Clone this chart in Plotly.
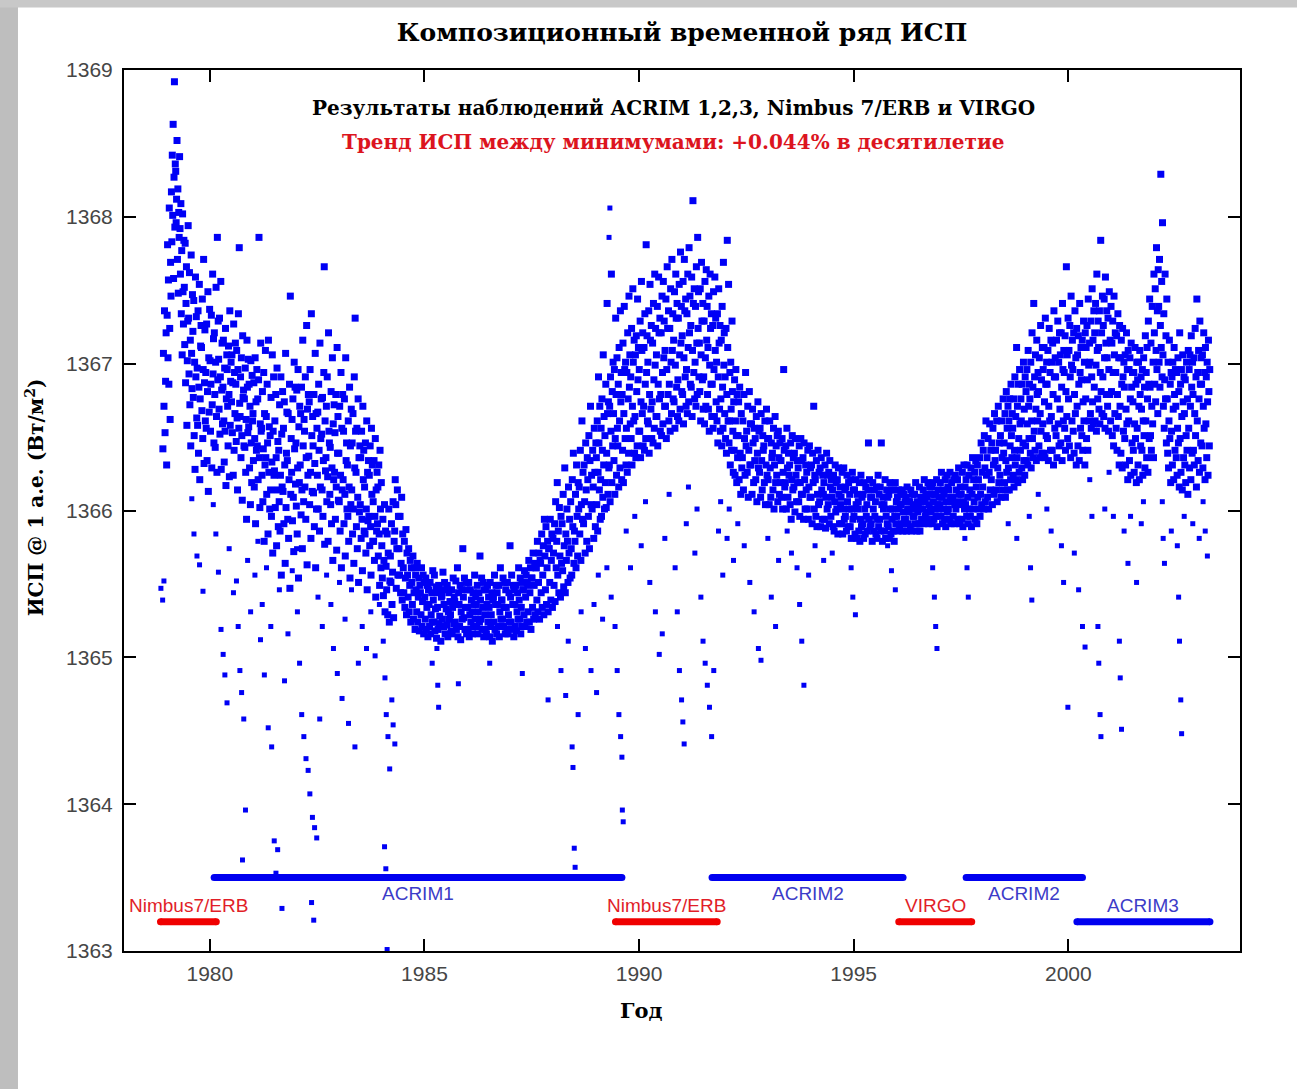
import plotly.graph_objects as go

# ---------------- data ----------------
# Composite TSI samples, grouped in 0.1-year bins starting at 1978.9
first_bin_year = 1978.9
bin_width_years = 0.1

tsi_bins = [
    # 1978.9
    [1366.42, 1367.07, 1366.71, 1367.36, 1366.53, 1366.88, 1367.21, 1366.31],
    # 1979
    [1367.33, 1367.81, 1367.04, 1367.57, 1366.86, 1368.06, 1367.24, 1366.62, 1367.69, 1367.46],
    [1368.17, 1367.83, 1368.42, 1368.01, 1368.63, 1367.58, 1368.27, 1368.92, 1367.93, 1368.36],
    [1368.31, 1367.96, 1368.12, 1368.52, 1367.71, 1368.19, 1367.48, 1368.03, 1367.86, 1368.41],
    [1367.92, 1367.61, 1368.09, 1367.34, 1367.77, 1367.06, 1368.02, 1367.49, 1367.27, 1367.84],
    [1367.52, 1367.13, 1367.82, 1366.87, 1367.41, 1367.66, 1366.58, 1367.02, 1367.29, 1367.94],
    [1367.31, 1366.93, 1367.62, 1366.72, 1367.16, 1366.44, 1367.74, 1367.07, 1366.83, 1367.47],
    [1367.22, 1366.77, 1367.43, 1366.51, 1367.01, 1366.28, 1367.59, 1366.91, 1367.32, 1366.63],
    [1366.97, 1366.58, 1367.36, 1366.39, 1366.84, 1367.54, 1366.21, 1366.76, 1367.12, 1367.26],
    [1367.11, 1366.68, 1367.44, 1366.49, 1366.96, 1367.71, 1366.32, 1366.87, 1367.23, 1366.61],
    [1366.94, 1366.56, 1367.27, 1366.34, 1366.81, 1367.49, 1366.13, 1367.04, 1366.67, 1367.37],
    # 1980
    [1367.02, 1366.54, 1366.86, 1367.33, 1366.29, 1366.72, 1367.61, 1366.93, 1367.17, 1366.46],
    [1367.21, 1366.79, 1366.43, 1367.01, 1367.52, 1366.64, 1366.26, 1367.86, 1366.89, 1367.29],
    [1367.03, 1366.69, 1367.31, 1366.52, 1366.91, 1367.56, 1366.28, 1366.82, 1367.14, 1366.59],
    [1366.84, 1367.16, 1366.61, 1366.33, 1366.97, 1366.54, 1367.24, 1366.17, 1366.76, 1367.06],
    [1366.96, 1366.71, 1366.44, 1367.12, 1366.79, 1366.23, 1367.36, 1366.58, 1366.88, 1367.01],
    [1366.74, 1367.06, 1366.53, 1366.87, 1366.24, 1367.27, 1366.41, 1366.94, 1366.66, 1367.14],
    [1366.86, 1366.47, 1367.09, 1366.63, 1366.14, 1366.96, 1367.34, 1366.56, 1367.79, 1366.73],
    [1366.64, 1366.91, 1366.36, 1367.04, 1366.51, 1366.07, 1367.19, 1366.77, 1366.82, 1366.44],
    [1366.76, 1366.43, 1366.97, 1366.26, 1366.62, 1365.94, 1367.16, 1366.84, 1366.53, 1367.03],
    [1366.57, 1366.86, 1366.29, 1366.71, 1366.04, 1367.02, 1366.46, 1366.19, 1366.92, 1366.61],
    # 1981
    [1366.66, 1366.34, 1366.87, 1366.16, 1366.49, 1367.04, 1365.91, 1366.74, 1366.41, 1366.96],
    [1366.44, 1366.76, 1366.21, 1366.89, 1367.86, 1366.36, 1366.02, 1366.59, 1367.14, 1366.54],
    [1366.56, 1366.24, 1366.81, 1366.06, 1366.42, 1366.94, 1365.79, 1366.66, 1366.31, 1367.09],
    [1366.36, 1366.64, 1366.11, 1366.86, 1366.46, 1365.84, 1367.16, 1366.26, 1366.57, 1366.01],
    [1366.51, 1366.14, 1366.77, 1365.96, 1366.33, 1367.06, 1365.71, 1366.54, 1366.91, 1366.24],
    [1366.27, 1366.61, 1366.02, 1366.79, 1366.36, 1365.76, 1366.97, 1366.14, 1366.47, 1365.89],
    [1366.41, 1366.06, 1366.72, 1365.86, 1366.24, 1366.91, 1365.56, 1366.52, 1366.16, 1366.81],
    [1366.13, 1366.56, 1365.91, 1366.74, 1366.31, 1365.64, 1367.07, 1366.02, 1366.39, 1366.67],
    [1366.34, 1365.94, 1366.66, 1365.81, 1366.21, 1366.86, 1365.47, 1367.46, 1366.11, 1366.49],
    [1366.26, 1366.62, 1365.93, 1366.76, 1366.09, 1365.72, 1367.01, 1366.42, 1366.84, 1366.18],
    # 1982
    [1366.46, 1366.03, 1366.82, 1365.84, 1366.29, 1366.96, 1365.54, 1366.57, 1366.19, 1366.71],
    [1366.31, 1366.66, 1365.97, 1366.84, 1366.14, 1365.74, 1367.16, 1366.44, 1366.06, 1366.62],
    [1366.54, 1366.16, 1366.91, 1365.94, 1366.36, 1367.26, 1365.63, 1366.69, 1366.24, 1366.79],
    [1366.37, 1366.74, 1366.04, 1366.96, 1366.26, 1365.81, 1367.34, 1366.51, 1366.13, 1366.64],
    [1366.44, 1366.12, 1366.79, 1365.89, 1366.32, 1367.07, 1365.61, 1366.66, 1366.01, 1366.56],
    [1366.24, 1366.67, 1366.01, 1366.86, 1366.41, 1365.86, 1367.14, 1366.16, 1366.49, 1366.76],
    [1366.52, 1366.14, 1366.77, 1365.96, 1366.34, 1366.94, 1367.66, 1365.77, 1366.61, 1366.27],
    [1366.36, 1366.71, 1366.06, 1366.91, 1366.23, 1365.79, 1367.21, 1366.54, 1366.46, 1366.11],
    [1366.43, 1366.04, 1366.81, 1365.91, 1366.29, 1367.04, 1365.66, 1366.59, 1366.21, 1366.72],
    [1366.26, 1366.53, 1365.94, 1366.79, 1366.16, 1365.73, 1367.11, 1366.39, 1366.64, 1366.07],
    # 1983
    [1366.39, 1366.06, 1366.71, 1365.86, 1366.24, 1366.94, 1365.61, 1366.56, 1366.14, 1366.79],
    [1366.21, 1366.54, 1365.91, 1366.76, 1366.11, 1365.69, 1367.04, 1366.34, 1366.46, 1366.01],
    [1366.31, 1365.96, 1366.61, 1365.79, 1366.16, 1366.84, 1365.54, 1366.44, 1366.04, 1366.69],
    [1366.14, 1366.46, 1365.84, 1366.66, 1366.01, 1365.64, 1366.91, 1366.29, 1367.31, 1366.54],
    [1366.26, 1365.89, 1366.56, 1365.74, 1366.09, 1366.76, 1365.51, 1366.36, 1365.99, 1366.44],
    [1366.04, 1366.36, 1365.81, 1366.54, 1365.94, 1365.59, 1366.71, 1366.21, 1366.41, 1365.86],
    [1366.16, 1365.84, 1366.46, 1365.71, 1366.01, 1366.61, 1365.46, 1366.26, 1365.93, 1366.34],
    [1365.96, 1366.24, 1365.76, 1366.44, 1365.89, 1365.56, 1366.56, 1366.11, 1366.31, 1365.79],
    [1366.06, 1365.79, 1366.34, 1365.66, 1365.96, 1366.49, 1365.41, 1366.14, 1365.86, 1366.26],
    [1365.91, 1366.16, 1365.69, 1366.31, 1365.84, 1365.49, 1366.41, 1366.01, 1365.61, 1366.19],
    # 1984
    [1365.76, 1365.54, 1365.94, 1365.42, 1365.66, 1366.04, 1365.31, 1365.86],
    [1365.62, 1365.46, 1365.84, 1365.29, 1365.71, 1366.01, 1365.24, 1365.52],
    [1365.69, 1365.51, 1365.91, 1365.36, 1365.58, 1366.06, 1365.27, 1365.79],
    [1365.86, 1366.21, 1366.04, 1365.47, 1365.74, 1366.14, 1365.56, 1365.96],
    [1365.74, 1365.56, 1365.96, 1365.44, 1365.64, 1366.09, 1365.39, 1365.84],
    [1365.61, 1365.44, 1365.79, 1365.34, 1365.54, 1365.87, 1365.29, 1365.71],
    [1365.56, 1365.41, 1365.74, 1365.31, 1365.49, 1365.66, 1365.24, 1365.61],
    [1365.51, 1365.36, 1365.69, 1365.26, 1365.44, 1365.61, 1365.19, 1365.56],
    [1365.46, 1365.31, 1365.64, 1365.24, 1365.41, 1365.54, 1365.18, 1365.49],
    [1365.44, 1365.29, 1365.61, 1365.21, 1365.38, 1365.56, 1365.16, 1365.51],
    # 1985
    [1365.41, 1365.26, 1365.54, 1365.19, 1365.34, 1365.49, 1365.14, 1365.46],
    [1365.36, 1365.21, 1365.51, 1365.16, 1365.29, 1365.44, 1365.24, 1365.59],
    [1365.39, 1365.24, 1365.56, 1365.18, 1365.33, 1365.48, 1365.13, 1365.44],
    [1365.34, 1365.19, 1365.49, 1365.23, 1365.28, 1365.46, 1365.11, 1365.41],
    [1365.42, 1365.26, 1365.58, 1365.21, 1365.36, 1365.51, 1365.16, 1365.46],
    [1365.33, 1365.22, 1365.49, 1365.14, 1365.31, 1365.44, 1365.26, 1365.38],
    [1365.29, 1365.18, 1365.46, 1365.16, 1365.34, 1365.54, 1365.23, 1365.41],
    [1365.38, 1365.24, 1365.52, 1365.19, 1365.36, 1365.61, 1365.14, 1365.44],
    [1365.36, 1365.21, 1365.49, 1365.12, 1365.31, 1365.46, 1365.26, 1365.74],
    [1365.41, 1365.27, 1365.54, 1365.19, 1365.34, 1365.51, 1365.16, 1365.46],
    # 1986
    [1365.34, 1365.19, 1365.51, 1365.14, 1365.29, 1365.46, 1365.24, 1365.39],
    [1365.31, 1365.16, 1365.44, 1365.21, 1365.36, 1365.56, 1365.26, 1365.41],
    [1365.36, 1365.21, 1365.49, 1365.16, 1365.31, 1365.44, 1365.24, 1365.69],
    [1365.39, 1365.26, 1365.54, 1365.19, 1365.34, 1365.51, 1365.14, 1365.46],
    [1365.29, 1365.19, 1365.46, 1365.16, 1365.36, 1365.49, 1365.24, 1365.41],
    [1365.34, 1365.14, 1365.51, 1365.21, 1365.29, 1365.44, 1365.11, 1365.39],
    [1365.41, 1365.24, 1365.56, 1365.19, 1365.36, 1365.49, 1365.16, 1365.44],
    [1365.36, 1365.21, 1365.49, 1365.14, 1365.31, 1365.61, 1365.26, 1365.39],
    [1365.39, 1365.26, 1365.54, 1365.21, 1365.34, 1365.51, 1365.16, 1365.46],
    [1365.34, 1365.19, 1365.51, 1365.16, 1365.29, 1365.44, 1365.24, 1365.76],
    # 1987
    [1365.41, 1365.24, 1365.56, 1365.19, 1365.36, 1365.49, 1365.14, 1365.46],
    [1365.36, 1365.21, 1365.49, 1365.18, 1365.31, 1365.44, 1365.26, 1365.61],
    [1365.39, 1365.26, 1365.54, 1365.16, 1365.34, 1365.51, 1365.21, 1365.46],
    [1365.46, 1365.29, 1365.59, 1365.21, 1365.41, 1365.56, 1365.24, 1365.51],
    [1365.49, 1365.31, 1365.66, 1365.24, 1365.44, 1365.61, 1365.19, 1365.54],
    [1365.54, 1365.34, 1365.71, 1365.26, 1365.49, 1365.64, 1365.29, 1365.61],
    [1365.61, 1365.39, 1365.79, 1365.31, 1365.51, 1365.71, 1365.26, 1365.66],
    [1365.64, 1365.44, 1365.84, 1365.34, 1365.56, 1365.76, 1365.29, 1365.94],
    [1365.69, 1365.46, 1365.89, 1365.36, 1365.61, 1365.79, 1365.31, 1365.74],
    [1365.74, 1365.51, 1365.94, 1365.39, 1365.66, 1365.84, 1365.34, 1365.81],
    # 1988
    [1365.71, 1365.49, 1365.91, 1365.38, 1366.06, 1365.61, 1365.79, 1366.19],
    [1365.56, 1365.86, 1365.44, 1366.02, 1365.69, 1365.41, 1365.96, 1365.64],
    [1365.91, 1365.59, 1366.11, 1365.48, 1365.76, 1366.29, 1365.44, 1365.84],
    [1365.66, 1366.01, 1365.79, 1365.51, 1366.16, 1365.71, 1365.94, 1365.54],
    [1366.06, 1365.74, 1365.56, 1366.21, 1365.89, 1366.39, 1365.64, 1365.86],
    [1365.79, 1366.11, 1365.61, 1366.31, 1365.96, 1365.69, 1366.19, 1366.01],
    [1366.16, 1365.84, 1366.41, 1365.66, 1366.04, 1366.61, 1365.94, 1366.26],
    [1365.91, 1366.31, 1366.06, 1365.71, 1366.46, 1366.14, 1365.79, 1366.36],
    [1366.21, 1365.96, 1366.51, 1365.74, 1366.34, 1366.71, 1366.04, 1366.24],
    [1366.01, 1366.41, 1366.16, 1365.81, 1366.56, 1366.26, 1365.89, 1366.46],
    # 1989
    [1366.36, 1366.04, 1366.61, 1365.86, 1366.26, 1366.91, 1366.46, 1366.14, 1366.71, 1365.94],
    [1366.21, 1366.56, 1365.96, 1366.76, 1366.41, 1366.09, 1367.06, 1366.31, 1366.64, 1366.01],
    [1366.51, 1366.19, 1366.86, 1366.02, 1366.39, 1367.41, 1366.66, 1366.11, 1366.74, 1366.29],
    [1366.31, 1366.71, 1366.06, 1366.91, 1366.54, 1367.61, 1366.19, 1366.81, 1366.44, 1367.01],
    [1366.66, 1366.34, 1366.96, 1366.11, 1366.49, 1367.31, 1366.79, 1366.24, 1367.04, 1366.56],
    [1366.44, 1366.86, 1366.16, 1367.11, 1366.61, 1366.29, 1367.36, 1366.74, 1366.94, 1366.21],
    [1366.79, 1366.41, 1367.14, 1366.19, 1366.66, 1367.39, 1366.96, 1366.49, 1367.01, 1366.31],
    [1366.56, 1366.94, 1366.26, 1367.21, 1366.76, 1366.39, 1367.46, 1366.84, 1367.06, 1366.59],
    [1366.91, 1366.49, 1367.24, 1366.31, 1366.71, 1367.51, 1367.01, 1366.61, 1367.16, 1366.39],
    [1366.64, 1367.06, 1366.36, 1367.19, 1366.81, 1366.44, 1367.44, 1366.89, 1367.11, 1366.54],
    # 1990
    [1366.96, 1366.54, 1367.29, 1366.36, 1366.74, 1367.56, 1367.09, 1366.66, 1367.21, 1366.44],
    [1366.71, 1367.11, 1366.41, 1367.34, 1366.86, 1366.49, 1367.81, 1366.94, 1367.19, 1366.61],
    [1367.01, 1366.59, 1367.36, 1366.39, 1366.79, 1367.54, 1367.16, 1366.69, 1367.26, 1366.49],
    [1366.74, 1367.14, 1366.46, 1367.41, 1366.89, 1366.56, 1367.61, 1366.99, 1367.24, 1366.64],
    [1367.06, 1366.64, 1367.39, 1366.44, 1366.86, 1367.59, 1367.21, 1366.76, 1367.31, 1366.54],
    [1366.79, 1367.21, 1366.51, 1367.46, 1366.94, 1366.59, 1367.56, 1367.04, 1367.29, 1366.71],
    [1367.09, 1366.71, 1367.44, 1366.49, 1366.96, 1367.66, 1367.24, 1366.79, 1367.36, 1366.61],
    [1366.86, 1367.24, 1366.54, 1367.51, 1367.01, 1366.66, 1367.71, 1367.09, 1367.34, 1366.76],
    [1367.16, 1366.74, 1367.49, 1366.56, 1366.99, 1367.61, 1367.31, 1366.84, 1367.41, 1366.64],
    [1366.89, 1367.31, 1366.61, 1367.54, 1367.06, 1366.69, 1367.76, 1367.14, 1367.39, 1366.81],
    # 1991
    [1367.19, 1366.79, 1367.56, 1366.59, 1367.04, 1367.71, 1367.36, 1366.91, 1367.44, 1366.71],
    [1366.96, 1367.34, 1366.66, 1367.61, 1367.11, 1366.74, 1367.79, 1367.21, 1367.46, 1366.86],
    [1367.26, 1366.84, 1367.59, 1366.64, 1367.09, 1368.11, 1367.41, 1366.94, 1367.51, 1366.76],
    [1367.01, 1367.39, 1366.71, 1367.66, 1367.14, 1366.79, 1367.86, 1367.24, 1367.49, 1366.91],
    [1367.14, 1366.81, 1367.51, 1366.61, 1367.06, 1367.69, 1367.29, 1366.89, 1367.41, 1366.69],
    [1366.91, 1367.29, 1366.59, 1367.56, 1367.04, 1366.71, 1367.64, 1367.16, 1367.39, 1366.79],
    [1367.11, 1366.69, 1367.46, 1366.54, 1366.99, 1367.61, 1367.24, 1366.86, 1367.34, 1366.64],
    [1366.86, 1367.26, 1366.56, 1367.49, 1366.96, 1366.64, 1367.59, 1367.09, 1367.31, 1366.74],
    [1367.01, 1366.61, 1367.34, 1366.46, 1366.91, 1367.51, 1367.14, 1366.69, 1367.26, 1366.54],
    [1366.76, 1367.16, 1366.44, 1367.39, 1366.84, 1366.56, 1367.69, 1366.99, 1367.21, 1366.66],
    # 1992
    [1366.91, 1366.49, 1367.24, 1366.39, 1366.79, 1367.84, 1367.11, 1366.61, 1367.54, 1366.46],
    [1366.61, 1366.94, 1366.31, 1367.01, 1366.69, 1366.41, 1367.29, 1366.81, 1366.54, 1366.26],
    [1366.74, 1366.41, 1366.89, 1366.24, 1366.61, 1366.96, 1366.51, 1366.19, 1366.79, 1366.36],
    [1366.51, 1366.74, 1366.21, 1366.84, 1366.39, 1366.11, 1366.66, 1366.29],
    [1366.36, 1366.61, 1366.14, 1366.79, 1366.49, 1366.24, 1366.94, 1366.44],
    [1366.54, 1366.26, 1366.71, 1366.09, 1366.41, 1366.81, 1366.31, 1366.59],
    [1366.31, 1366.59, 1366.11, 1366.69, 1366.46, 1366.19, 1366.56, 1366.34],
    [1366.49, 1366.21, 1366.64, 1366.06, 1366.39, 1366.74, 1366.29, 1366.54],
    [1366.26, 1366.56, 1366.09, 1366.66, 1366.34, 1366.14, 1366.51, 1366.41],
    [1366.44, 1366.19, 1366.61, 1366.04, 1366.31, 1366.69, 1366.24, 1366.49],
    # 1993
    [1366.21, 1366.49, 1366.04, 1366.61, 1366.29, 1366.09, 1366.46, 1366.36],
    [1366.39, 1366.14, 1366.56, 1366.01, 1366.31, 1366.64, 1366.19, 1366.44],
    [1366.24, 1366.51, 1366.06, 1366.54, 1366.36, 1366.11, 1366.46, 1366.19],
    [1366.34, 1366.09, 1366.49, 1366.01, 1366.26, 1366.96, 1366.41, 1366.16],
    [1366.19, 1366.44, 1366.01, 1366.56, 1366.29, 1366.09, 1366.39, 1366.24],
    [1366.31, 1366.04, 1366.46, 1365.94, 1366.21, 1366.51, 1366.14, 1366.36],
    [1366.16, 1366.39, 1365.99, 1366.49, 1366.24, 1366.06, 1366.34, 1366.19],
    [1366.29, 1366.06, 1366.44, 1365.96, 1366.19, 1366.49, 1366.11, 1366.34],
    [1366.11, 1366.36, 1365.94, 1366.46, 1366.21, 1366.01, 1366.31, 1366.14],
    [1366.26, 1366.01, 1366.41, 1365.94, 1366.16, 1366.44, 1366.09, 1366.29],
    # 1994
    [1366.09, 1366.31, 1365.91, 1366.39, 1366.19, 1366.71, 1366.01, 1366.24],
    [1366.21, 1365.96, 1366.34, 1365.89, 1366.11, 1366.41, 1366.04, 1366.26],
    [1366.06, 1366.29, 1365.89, 1366.36, 1366.14, 1365.94, 1366.24, 1366.11],
    [1366.19, 1365.94, 1366.31, 1365.88, 1366.09, 1366.39, 1366.01, 1366.24],
    [1366.04, 1366.26, 1365.91, 1366.34, 1366.16, 1365.96, 1366.21, 1366.09],
    [1366.14, 1365.89, 1366.24, 1365.86, 1366.06, 1366.31, 1365.99, 1366.19],
    [1366.01, 1366.21, 1365.84, 1366.29, 1366.11, 1365.91, 1366.16, 1366.04],
    [1366.09, 1365.91, 1366.26, 1365.84, 1366.01, 1366.29, 1365.94, 1366.14],
    [1365.96, 1366.16, 1365.86, 1366.24, 1366.06, 1365.89, 1366.19, 1366.01],
    [1366.11, 1365.89, 1366.21, 1365.81, 1366.01, 1366.26, 1365.94, 1366.14],
    # 1995
    [1365.96, 1366.14, 1365.84, 1366.21, 1366.04, 1365.81, 1366.11, 1366.01],
    [1366.06, 1365.86, 1366.19, 1365.79, 1365.94, 1366.24, 1365.89, 1366.09],
    [1365.91, 1366.11, 1365.81, 1366.19, 1366.01, 1365.84, 1366.16, 1365.96],
    [1366.04, 1365.86, 1366.14, 1366.46, 1365.94, 1366.21, 1365.89, 1366.09],
    [1365.91, 1366.09, 1365.79, 1366.19, 1366.01, 1365.86, 1366.14, 1365.96],
    [1366.06, 1365.84, 1366.16, 1365.81, 1365.94, 1366.24, 1365.89, 1366.11],
    [1365.94, 1366.16, 1365.86, 1366.46, 1366.04, 1365.79, 1366.09, 1366.01],
    [1366.04, 1365.86, 1366.21, 1365.81, 1365.96, 1366.14, 1365.91, 1366.09],
    [1365.89, 1366.11, 1365.81, 1366.19, 1366.01, 1365.84, 1366.14, 1365.94],
    [1366.01, 1365.86, 1366.14, 1365.79, 1365.96, 1366.19, 1365.91, 1366.06],
    # 1996
    [1365.96, 1366.09, 1365.86, 1366.14, 1366.01, 1365.89, 1366.04, 1366.11],
    [1366.04, 1365.91, 1366.14, 1365.86, 1365.99, 1366.11, 1365.94, 1366.06],
    [1365.94, 1366.09, 1365.86, 1366.16, 1366.01, 1365.91, 1366.06, 1365.99],
    [1366.06, 1365.89, 1366.14, 1365.86, 1366.01, 1366.11, 1365.96, 1366.04],
    [1365.96, 1366.11, 1365.91, 1366.19, 1366.01, 1365.86, 1366.06, 1365.99],
    [1366.04, 1365.91, 1366.16, 1365.86, 1366.01, 1366.09, 1365.94, 1366.06],
    [1366.01, 1366.14, 1365.91, 1366.21, 1366.06, 1365.96, 1366.11, 1365.99],
    [1366.09, 1365.94, 1366.19, 1365.91, 1366.04, 1366.16, 1366.01, 1366.11],
    [1365.99, 1366.16, 1365.91, 1366.19, 1366.06, 1365.94, 1366.11, 1366.01],
    [1366.11, 1365.96, 1366.21, 1365.89, 1366.04, 1366.14, 1366.01, 1366.09],
    # 1997
    [1366.04, 1366.19, 1365.96, 1366.26, 1366.09, 1365.91, 1366.14, 1366.01],
    [1366.11, 1365.94, 1366.21, 1365.89, 1366.06, 1366.24, 1365.99, 1366.16],
    [1366.01, 1366.14, 1365.94, 1366.26, 1366.09, 1365.91, 1366.19, 1366.06],
    [1366.09, 1365.96, 1366.21, 1365.91, 1366.04, 1366.24, 1366.01, 1366.14],
    [1366.06, 1366.21, 1365.94, 1366.29, 1366.11, 1365.91, 1366.16, 1366.04],
    [1366.11, 1365.94, 1366.26, 1365.89, 1366.06, 1366.31, 1366.01, 1366.16],
    [1366.04, 1366.21, 1365.96, 1366.31, 1366.09, 1365.91, 1366.24, 1366.01],
    [1366.14, 1365.96, 1366.29, 1365.89, 1366.11, 1366.36, 1366.01, 1366.21],
    [1366.06, 1366.26, 1365.94, 1366.34, 1366.16, 1365.91, 1366.31, 1366.09],
    [1366.21, 1366.01, 1366.36, 1365.96, 1366.11, 1366.46, 1366.04, 1366.26],
    # 1998
    [1366.16, 1366.41, 1366.01, 1366.51, 1366.29, 1366.06, 1366.61, 1366.24],
    [1366.36, 1366.09, 1366.49, 1366.01, 1366.26, 1366.59, 1366.14, 1366.41],
    [1366.21, 1366.46, 1366.04, 1366.56, 1366.31, 1366.11, 1366.66, 1366.34],
    [1366.41, 1366.14, 1366.61, 1366.06, 1366.29, 1366.71, 1366.19, 1366.46],
    [1366.24, 1366.51, 1366.09, 1366.61, 1366.36, 1366.14, 1366.76, 1366.39],
    [1366.46, 1366.19, 1366.66, 1366.09, 1366.34, 1366.81, 1366.26, 1366.56, 1366.14, 1366.71],
    [1366.29, 1366.61, 1366.14, 1366.76, 1366.44, 1366.21, 1366.86, 1366.51, 1366.36, 1366.66],
    [1366.56, 1366.24, 1366.76, 1366.16, 1366.41, 1366.91, 1366.31, 1366.64, 1366.21, 1367.11],
    [1366.36, 1366.71, 1366.19, 1366.86, 1366.49, 1366.26, 1366.96, 1366.59, 1366.41, 1366.76],
    [1366.61, 1366.29, 1366.86, 1366.21, 1366.46, 1367.01, 1366.34, 1366.69, 1366.24, 1366.91],
    # 1999
    [1366.44, 1366.81, 1366.34, 1366.96, 1366.59, 1366.31, 1367.09, 1366.71, 1366.49, 1366.86],
    [1366.76, 1366.39, 1367.01, 1366.29, 1366.61, 1367.21, 1366.49, 1366.84, 1366.36, 1367.41],
    [1366.54, 1366.91, 1366.41, 1367.06, 1366.69, 1366.34, 1367.16, 1366.79, 1366.61, 1366.94],
    [1366.81, 1366.44, 1367.04, 1366.36, 1366.66, 1367.26, 1366.54, 1366.89, 1366.39, 1367.11],
    [1366.59, 1366.96, 1366.39, 1367.11, 1366.74, 1366.36, 1367.31, 1366.86, 1366.51, 1367.01],
    [1366.86, 1366.49, 1367.09, 1366.34, 1366.71, 1367.24, 1366.61, 1366.94, 1366.41, 1367.16],
    [1366.64, 1367.01, 1366.41, 1367.14, 1366.79, 1366.31, 1367.36, 1366.91, 1366.56, 1367.04],
    [1366.91, 1366.51, 1367.16, 1366.36, 1366.76, 1367.29, 1366.59, 1367.01, 1366.44, 1367.21],
    [1366.69, 1367.06, 1366.46, 1367.21, 1366.84, 1366.34, 1367.41, 1366.96, 1366.61, 1367.09],
    [1366.94, 1366.56, 1367.19, 1366.41, 1366.81, 1367.66, 1366.64, 1367.06, 1366.49, 1367.31],
    # 2000
    [1366.76, 1367.09, 1366.44, 1367.26, 1366.91, 1366.36, 1367.46, 1366.99, 1366.61, 1367.16],
    [1366.96, 1366.54, 1367.21, 1366.39, 1366.79, 1367.36, 1366.66, 1367.04, 1366.31, 1367.24],
    [1366.71, 1367.06, 1366.44, 1367.19, 1366.86, 1366.34, 1367.41, 1366.94, 1366.56, 1367.11],
    [1366.89, 1366.51, 1367.16, 1366.41, 1366.74, 1367.29, 1366.61, 1367.01, 1366.31, 1367.21],
    [1366.76, 1367.11, 1366.49, 1367.26, 1366.89, 1366.41, 1367.44, 1366.99, 1366.61, 1367.14],
    [1367.01, 1366.66, 1367.29, 1366.56, 1366.91, 1367.51, 1366.74, 1367.16, 1366.59, 1367.36],
    [1366.84, 1367.21, 1366.61, 1367.41, 1366.99, 1366.54, 1367.61, 1367.09, 1366.76, 1367.29],
    [1367.11, 1366.69, 1367.36, 1366.59, 1366.94, 1367.84, 1366.81, 1367.21, 1366.66, 1367.46],
    [1366.91, 1367.26, 1366.64, 1367.44, 1367.04, 1366.56, 1367.59, 1367.14, 1366.79, 1367.36],
    [1367.04, 1366.71, 1367.31, 1366.54, 1366.96, 1367.49, 1366.79, 1367.16, 1366.61, 1367.39],
    # 2001
    [1366.81, 1367.14, 1366.51, 1367.29, 1366.94, 1366.44, 1367.46, 1367.06, 1366.66, 1367.21],
    [1366.94, 1366.56, 1367.19, 1366.41, 1366.79, 1367.34, 1366.64, 1367.04, 1366.31, 1367.26],
    [1366.71, 1367.04, 1366.39, 1367.16, 1366.86, 1366.29, 1367.24, 1366.91, 1366.54, 1367.01],
    [1366.84, 1366.49, 1367.06, 1366.31, 1366.69, 1367.21, 1366.59, 1366.96, 1366.21, 1367.09],
    [1366.61, 1366.96, 1366.34, 1367.04, 1366.76, 1366.24, 1367.14, 1366.84, 1366.46, 1366.94],
    [1366.74, 1366.41, 1366.94, 1366.26, 1366.59, 1367.11, 1366.49, 1366.86, 1366.19, 1367.01],
    [1366.56, 1366.89, 1366.31, 1367.01, 1366.71, 1366.21, 1367.09, 1366.79, 1366.44, 1366.91],
    [1366.69, 1366.41, 1366.96, 1366.24, 1366.61, 1367.04, 1366.51, 1366.84, 1366.29, 1367.19],
    [1366.61, 1366.94, 1366.36, 1367.11, 1366.76, 1366.26, 1367.29, 1366.86, 1366.49, 1367.44],
    [1366.84, 1366.51, 1367.14, 1366.41, 1366.71, 1367.39, 1366.59, 1367.01, 1366.36, 1367.61],
    # 2002
    [1367.21, 1366.86, 1367.51, 1366.74, 1367.09, 1367.79, 1366.96, 1367.36, 1366.66, 1367.64],
    [1367.39, 1367.01, 1367.71, 1366.84, 1367.26, 1368.29, 1367.11, 1367.56, 1366.91, 1367.96],
    [1367.06, 1366.71, 1367.34, 1366.56, 1366.89, 1367.61, 1366.76, 1367.19, 1366.46, 1367.44],
    [1366.76, 1366.39, 1367.01, 1366.29, 1366.61, 1367.16, 1366.49, 1366.86, 1366.19, 1366.94],
    [1366.54, 1366.91, 1366.31, 1367.01, 1366.69, 1366.21, 1367.11, 1366.79, 1366.41, 1366.96],
    [1366.71, 1366.36, 1366.94, 1366.24, 1366.56, 1367.04, 1366.46, 1366.81, 1366.16, 1367.21],
    [1366.49, 1366.86, 1366.26, 1366.96, 1366.64, 1366.14, 1367.06, 1366.74, 1366.36, 1366.91],
    [1366.66, 1366.31, 1366.89, 1366.19, 1366.51, 1367.01, 1366.41, 1366.76, 1366.11, 1367.09],
    [1366.56, 1366.96, 1366.29, 1367.06, 1366.71, 1366.21, 1367.19, 1366.84, 1366.39, 1367.01],
    [1366.79, 1366.41, 1367.04, 1366.31, 1366.66, 1367.24, 1366.51, 1366.91, 1366.16, 1367.44],
    # 2003
    [1366.61, 1366.94, 1366.34, 1367.09, 1366.76, 1366.26, 1367.29, 1366.86, 1366.46, 1367.04],
    [1366.86, 1366.44, 1367.06, 1366.29, 1366.71, 1367.21, 1366.56, 1366.94, 1366.21, 1367.11],
    [1366.59, 1366.91, 1366.36, 1367.01, 1366.74, 1366.24, 1367.16, 1366.81, 1366.44, 1366.96],
]

# Isolated low (sunspot dip), high and scattered points: (year, TSI)
sparse_points = [
    (1978.86, 1365.47), (1978.90, 1365.39), (1978.93, 1365.52),
    (1979.58, 1366.08), (1979.63, 1365.84), (1979.70, 1365.69), (1979.76, 1365.63), (1979.84, 1365.45),
    (1980.08, 1366.04), (1980.14, 1365.84), (1980.20, 1365.58), (1980.26, 1365.19), (1980.31, 1365.02),
    (1980.35, 1364.88), (1980.40, 1364.69), (1980.45, 1365.74), (1980.55, 1365.44),
    (1980.62, 1365.52), (1980.66, 1365.21), (1980.70, 1364.91), (1980.74, 1364.76), (1980.79, 1364.58),
    (1980.83, 1363.96), (1980.76, 1363.62), (1980.88, 1365.66), (1980.95, 1365.31),
    (1981.05, 1365.56), (1981.12, 1365.79), (1981.18, 1365.12), (1981.22, 1365.36), (1981.27, 1364.88),
    (1981.32, 1365.61), (1981.36, 1364.52), (1981.42, 1365.21), (1981.44, 1364.39), (1981.50, 1363.75),
    (1981.54, 1363.53), (1981.58, 1363.69), (1981.62, 1365.46), (1981.68, 1363.29), (1981.74, 1364.84),
    (1981.82, 1365.16), (1981.92, 1365.59),
    (1982.02, 1365.74), (1982.04, 1365.31), (1982.09, 1364.96), (1982.14, 1364.61), (1982.19, 1364.46),
    (1982.24, 1364.31), (1982.29, 1364.23), (1982.33, 1364.07), (1982.37, 1363.33), (1982.39, 1363.91),
    (1982.42, 1363.21), (1982.44, 1363.84), (1982.49, 1363.77), (1982.52, 1365.41), (1982.56, 1364.58),
    (1982.62, 1365.21), (1982.72, 1365.56), (1982.82, 1365.36), (1982.88, 1365.06), (1982.97, 1364.89),
    (1983.02, 1365.51), (1983.08, 1364.72), (1983.15, 1365.26), (1983.23, 1364.55), (1983.30, 1365.46),
    (1983.38, 1364.39), (1983.46, 1364.96), (1983.55, 1365.21), (1983.65, 1365.06), (1983.75, 1365.31),
    (1983.85, 1365.01), (1983.95, 1365.36),
    (1984.04, 1365.11), (1984.07, 1363.71), (1984.08, 1364.86), (1984.10, 1363.56), (1984.11, 1364.61),
    (1984.13, 1363.01), (1984.15, 1364.46), (1984.19, 1364.24), (1984.24, 1364.71), (1984.27, 1364.54),
    (1984.31, 1364.41),
    (1985.18, 1364.96), (1985.29, 1365.06), (1985.31, 1364.81), (1985.33, 1364.66), (1985.79, 1364.82),
    (1986.52, 1364.96), (1987.28, 1364.89), (1987.88, 1364.71),
    (1988.10, 1365.21), (1988.18, 1364.91), (1988.29, 1364.74), (1988.35, 1365.11), (1988.44, 1364.39),
    (1988.46, 1364.25), (1988.49, 1363.70), (1988.51, 1363.57), (1988.58, 1364.61), (1988.65, 1365.31),
    (1988.75, 1365.06), (1988.88, 1364.91), (1988.95, 1365.36),
    (1989.01, 1364.76), (1989.05, 1365.56), (1989.15, 1365.26), (1989.25, 1365.61), (1989.30, 1367.86),
    (1989.32, 1368.06), (1989.35, 1365.41),
    (1989.44, 1365.21), (1989.49, 1364.91), (1989.53, 1364.61), (1989.57, 1364.46), (1989.60, 1364.32),
    (1989.61, 1363.96), (1989.63, 1363.88), (1989.70, 1365.86), (1989.80, 1365.61), (1989.90, 1365.96),
    (1990.05, 1365.76), (1990.15, 1366.06), (1990.25, 1365.51), (1990.38, 1365.31), (1990.47, 1365.02),
    (1990.54, 1365.16), (1990.60, 1365.81), (1990.70, 1366.11), (1990.84, 1365.61), (1990.89, 1365.31),
    (1990.94, 1364.91), (1990.99, 1364.71),
    (1991.02, 1364.56), (1991.05, 1364.41), (1991.10, 1365.91), (1991.15, 1366.16), (1991.30, 1365.71),
    (1991.35, 1366.01), (1991.44, 1365.41), (1991.49, 1365.11), (1991.54, 1364.96), (1991.59, 1364.81),
    (1991.64, 1364.66), (1991.69, 1364.46), (1991.74, 1364.91), (1991.85, 1365.86), (1991.90, 1366.06),
    (1991.95, 1365.56),
    (1992.05, 1365.81), (1992.10, 1366.01), (1992.20, 1365.66), (1992.30, 1365.91), (1992.45, 1365.76),
    (1992.58, 1365.51), (1992.68, 1365.31), (1992.78, 1365.06), (1992.84, 1364.98),
    (1993.00, 1365.81), (1993.08, 1365.41), (1993.18, 1365.21), (1993.25, 1365.66), (1993.45, 1365.86),
    (1993.55, 1365.71), (1993.68, 1365.61), (1993.74, 1365.36), (1993.79, 1365.11), (1993.84, 1364.81),
    (1993.95, 1365.56),
    (1994.10, 1365.76), (1994.30, 1365.66), (1994.50, 1365.71), (1994.94, 1365.61), (1994.98, 1365.41),
    (1995.04, 1365.29), (1995.79, 1365.76), (1995.88, 1365.59), (1995.97, 1365.46),
    (1996.84, 1365.61), (1996.88, 1365.41), (1996.91, 1365.21), (1996.94, 1365.06),
    (1997.59, 1365.81), (1997.64, 1365.61), (1997.67, 1365.41),
    (1998.60, 1365.91), (1998.80, 1365.81),
    (1999.09, 1365.96), (1999.12, 1365.61), (1999.15, 1365.39), (1999.30, 1366.11), (1999.50, 1366.01),
    (1999.60, 1365.86), (1999.84, 1365.76), (1999.89, 1365.51), (1999.99, 1364.66),
    (2000.14, 1365.71), (2000.24, 1365.46), (2000.33, 1365.21), (2000.39, 1365.07), (2000.50, 1366.21),
    (2000.55, 1365.96), (2000.69, 1365.21), (2000.71, 1364.96), (2000.74, 1364.61), (2000.76, 1364.46),
    (2000.85, 1366.01), (2000.95, 1366.26),
    (2001.05, 1365.96), (2001.19, 1365.11), (2001.21, 1364.86), (2001.24, 1364.51), (2001.30, 1365.86),
    (2001.39, 1365.64), (2001.45, 1365.96), (2001.59, 1365.51), (2001.70, 1365.91), (2001.75, 1366.06),
    (2002.19, 1366.06), (2002.21, 1365.81), (2002.24, 1365.64), (2002.40, 1365.86), (2002.54, 1365.76),
    (2002.57, 1365.41), (2002.59, 1365.11), (2002.62, 1364.71), (2002.64, 1364.48), (2002.70, 1365.96),
    (2002.90, 1365.91), (2003.05, 1365.81), (2003.14, 1366.06), (2003.19, 1365.86), (2003.24, 1365.69),
]

# Instrument coverage bars
inst_names = ["Nimbus7/ERB", "ACRIM1", "Nimbus7/ERB", "ACRIM2", "VIRGO", "ACRIM2", "ACRIM3"]
inst_start = [1978.85, 1980.10, 1989.45, 1991.70, 1996.05, 1997.62, 2000.20]
inst_end = [1980.15, 1989.60, 1991.82, 1996.15, 1997.75, 2000.33, 2003.30]
inst_level = [1363.2, 1363.5, 1363.2, 1363.5, 1363.2, 1363.5, 1363.2]
inst_kind = ["nimbus", "acrim", "nimbus", "acrim", "virgo", "acrim", "acrim"]

x_ticks = [1980, 1985, 1990, 1995, 2000]
y_ticks = [1363, 1364, 1365, 1366, 1367, 1368, 1369]

title_text = "Композиционный временной ряд ИСП"
subtitle_text = "Результаты наблюдений ACRIM 1,2,3, Nimbus 7/ERB и VIRGO"
trend_text = "Тренд ИСП между минимумами: +0.044% в десятилетие"
x_title = "Год"
y_title = "ИСП @ 1 а.е. (Вт/м<sup>2</sup>)"

# ---------------- build ----------------
expected_bins = 244
assert len(tsi_bins) == expected_bins, len(tsi_bins)

core_x, core_y = [], []
for i, row in enumerate(tsi_bins):
    start = first_bin_year + i * bin_width_years
    n = len(row)
    for j, v in enumerate(row):
        core_x.append(start + (j + 0.5) * bin_width_years / n)
        core_y.append(v)
sparse_x = [p[0] for p in sparse_points]
sparse_y = [p[1] for p in sparse_points]

POINT_BLUE = "rgb(0,0,245)"
BAR_COLORS = {"nimbus": "rgb(240,0,0)", "acrim": "rgb(0,0,240)", "virgo": "rgb(240,0,0)"}
LABEL_COLORS = {"nimbus": "rgb(225,30,40)", "acrim": "rgb(60,60,200)", "virgo": "rgb(225,30,40)"}
SERIF = "DejaVu Serif, Liberation Serif, serif"
SANS = "Liberation Sans, Arial, sans-serif"

fig = go.Figure()
fig.add_trace(go.Scatter(
    x=core_x, y=core_y, mode="markers",
    marker=dict(symbol="square", size=7, color=POINT_BLUE, line=dict(width=0)),
    hoverinfo="skip", showlegend=False,
))
fig.add_trace(go.Scatter(
    x=sparse_x, y=sparse_y, mode="markers",
    marker=dict(symbol="square", size=5, color=POINT_BLUE, line=dict(width=0)),
    hoverinfo="skip", showlegend=False,
))

annotations = []
for name, s, e, lvl, kind in zip(inst_names, inst_start, inst_end, inst_level, inst_kind):
    fig.add_trace(go.Scatter(
        x=[s, e], y=[lvl, lvl], mode="lines+markers",
        line=dict(color=BAR_COLORS[kind], width=7),
        marker=dict(symbol="circle", size=7, color=BAR_COLORS[kind]),
        hoverinfo="skip", showlegend=False,
    ))
    upper = lvl > 1363.35
    annotations.append(dict(
        x=(s + e) / 2, y=lvl, xref="x", yref="y", text=name, showarrow=False,
        font=dict(family=SANS, size=19, color=LABEL_COLORS[kind]),
        xanchor="center", yanchor="middle", yshift=-16 if upper else 16,
    ))

annotations += [
    dict(x=0.4928, y=0.957, xref="paper", yref="paper", text=subtitle_text, showarrow=False,
         font=dict(family=SERIF, size=20, color="black", weight="bold"), xanchor="center", yanchor="middle"),
    dict(x=0.4928, y=0.918, xref="paper", yref="paper", text=trend_text, showarrow=False,
         font=dict(family=SERIF, size=20, color="rgb(220,20,30)", weight="bold"), xanchor="center", yanchor="middle"),
    dict(x=0.4633, y=-0.067, xref="paper", yref="paper", text=x_title, showarrow=False,
         font=dict(family=SERIF, size=21, color="black", weight="bold"), xanchor="center", yanchor="middle"),
    dict(x=-0.0797, y=0.515, xref="paper", yref="paper", text=y_title, showarrow=False, textangle=-90,
         font=dict(family=SERIF, size=20, color="black", weight="bold"), xanchor="center", yanchor="middle"),
]

shapes = [
    dict(type="rect", xref="paper", yref="paper", x0=-0.12, x1=-0.095, y0=-0.2, y1=1.1,
         fillcolor="rgb(190,190,190)", line=dict(width=0), layer="below"),
    dict(type="rect", xref="paper", yref="paper", x0=-0.12, x1=1.06, y0=1.071, y1=1.1,
         fillcolor="rgb(200,200,200)", line=dict(width=0), layer="below"),
]

axis_common = dict(
    showline=True, linecolor="black", linewidth=2, mirror="ticks",
    ticks="inside", ticklen=12, tickwidth=2, tickcolor="black",
    showgrid=False, zeroline=False,
    tickfont=dict(family=SANS, size=21, color="rgb(70,70,70)"),
)

fig.update_layout(
    width=1297, height=1089,
    margin=dict(l=124, r=57, t=70, b=138),
    paper_bgcolor="white", plot_bgcolor="white",
    title=dict(text=title_text, x=0.5, xref="paper", y=1 - 32 / 1089, yref="container",
               xanchor="center", yanchor="middle",
               font=dict(family=SERIF, size=25, color="black", weight="bold")),
    xaxis=dict(range=[1978, 2004], tickvals=x_ticks, ticklabelstandoff=3, **axis_common),
    yaxis=dict(range=[1363, 1369], tickvals=y_ticks, ticklabelstandoff=5, **axis_common),
    annotations=annotations,
    shapes=shapes,
    showlegend=False,
)

fig.write_html("out.html")
